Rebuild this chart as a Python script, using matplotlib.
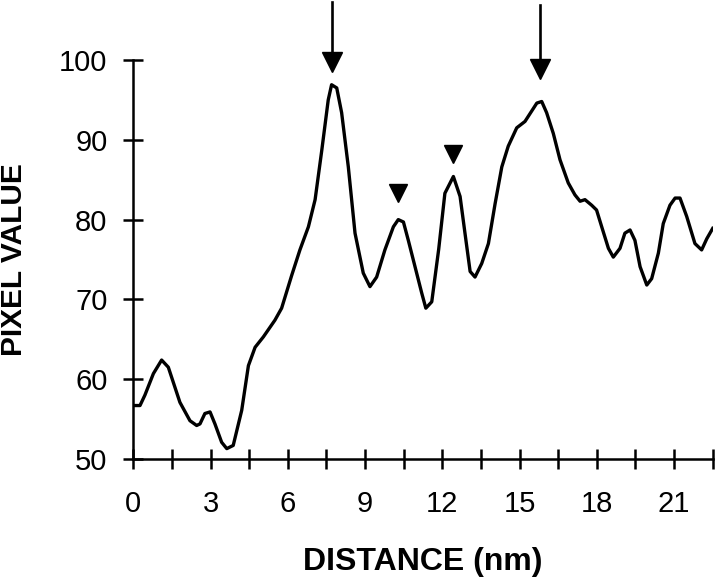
import numpy as np
import matplotlib
matplotlib.use("Agg")
import matplotlib.pyplot as plt

distance_nm = [0, 0.26, 0.45, 0.78, 1.10, 1.36, 1.81, 2.20, 2.46, 2.59, 2.78, 2.98, 3.17, 3.43,
               3.63, 3.88, 4.21, 4.47, 4.73, 5.05, 5.50, 5.76, 6.15, 6.47, 6.80, 7.06, 7.32,
               7.57, 7.70, 7.90, 8.09, 8.35, 8.61, 8.93, 9.19, 9.45, 9.77, 10.10, 10.29,
               10.49, 10.68, 10.94, 11.20, 11.36, 11.59, 11.86, 12.10, 12.43, 12.69, 12.88,
               13.08, 13.27, 13.53, 13.79, 14.05, 14.31, 14.56, 14.89, 15.21, 15.47, 15.67,
               15.86, 16.05, 16.31, 16.57, 16.89, 17.15, 17.35, 17.54, 17.80, 17.99, 18.19,
               18.45, 18.64, 18.90, 19.09, 19.29, 19.48, 19.68, 19.94, 20.13, 20.39, 20.58,
               20.84, 21.04, 21.23, 21.49, 21.81, 22.07, 22.27, 22.5]
pixel_value = [56.7, 56.7, 58.0, 60.7, 62.4, 61.5, 57.1, 54.8, 54.2, 54.4, 55.7, 55.9, 54.4, 52.1,
               51.3, 51.7, 56.1, 61.7, 64.0, 65.3, 67.4, 68.9, 73.0, 76.2, 79.1, 82.5, 88.7,
               95.0, 96.9, 96.5, 93.4, 86.6, 78.3, 73.3, 71.6, 72.8, 76.2, 79.1, 80.0,
               79.7, 77.4, 74.1, 70.8, 68.9, 69.7, 76.3, 83.3, 85.4, 82.9, 78.3,
               73.5, 72.8, 74.5, 77.0, 82.0, 86.6, 89.2, 91.5, 92.3, 93.6, 94.6,
               94.8, 93.4, 90.8, 87.5, 84.6, 83.1, 82.3, 82.5, 81.8, 81.2, 79.1,
               76.4, 75.3, 76.4, 78.3, 78.7, 77.4, 74.1, 71.8, 72.6, 75.8, 79.5,
               81.8, 82.7, 82.7, 80.4, 77.0, 76.2, 77.6, 78.9]

# Annotation marks
arrow_x = [7.73, 15.79]
arrow_top = [107.3, 106.9]
arrow_head = [99.75, 98.9]
small_tri_x = [10.29, 12.43]
small_tri_y = [83.3, 88.2]

x_major = [0, 3, 6, 9, 12, 15, 18, 21]
x_minor = [1.5, 4.5, 7.5, 10.5, 13.5, 16.5, 19.5, 22.5]
y_ticks = [50, 60, 70, 80, 90, 100]

plt.rcParams['font.family'] = ['Liberation Sans', 'DejaVu Sans']

fig = plt.figure(figsize=(7.2, 5.83), dpi=100)
W, H = 720, 583
left, right, top, bottom = 133.3, 712.7, 60, 459
ax = fig.add_axes([left / W, 1 - bottom / H, (right - left) / W, (bottom - top) / H])

ax.plot(distance_nm, pixel_value, color='black', lw=2.4, solid_joinstyle='round')

for x, yt, yh in zip(arrow_x, arrow_top, arrow_head):
    ax.plot([x, x], [yt, yh + 0.5], color='black', lw=1.9, clip_on=False)
    ax.plot([x], [yh], marker='v', color='black', markersize=14.5, clip_on=False, lw=0)
ax.plot(small_tri_x, small_tri_y, marker='v', color='black', markersize=12.3, lw=0, clip_on=False)

ax.set_xlim(0, 22.5)
ax.set_ylim(50, 100)
ax.set_xticks(x_major)
ax.set_xticklabels([str(v) for v in x_major])
ax.set_xticks(x_minor, minor=True)
ax.set_yticks(y_ticks)
ax.set_yticklabels([str(v) for v in y_ticks])

for s in ['top', 'right']:
    ax.spines[s].set_visible(False)
for s in ['left', 'bottom']:
    ax.spines[s].set_linewidth(1.8)

ax.tick_params(axis='both', which='both', direction='inout', length=15, width=1.8)
ax.tick_params(axis='x', which='major', labelsize=21, pad=14.5)
ax.tick_params(axis='y', which='major', labelsize=21, pad=11)

ax.set_xlabel('DISTANCE (nm)', fontsize=23, fontweight='bold')
ax.set_ylabel('PIXEL VALUE', fontsize=21.5, fontweight='bold')
ax.xaxis.set_label_coords(0.5, -0.22)
ax.yaxis.set_label_coords(-0.182, 0.5)

fig.savefig('out.png', dpi=100)
